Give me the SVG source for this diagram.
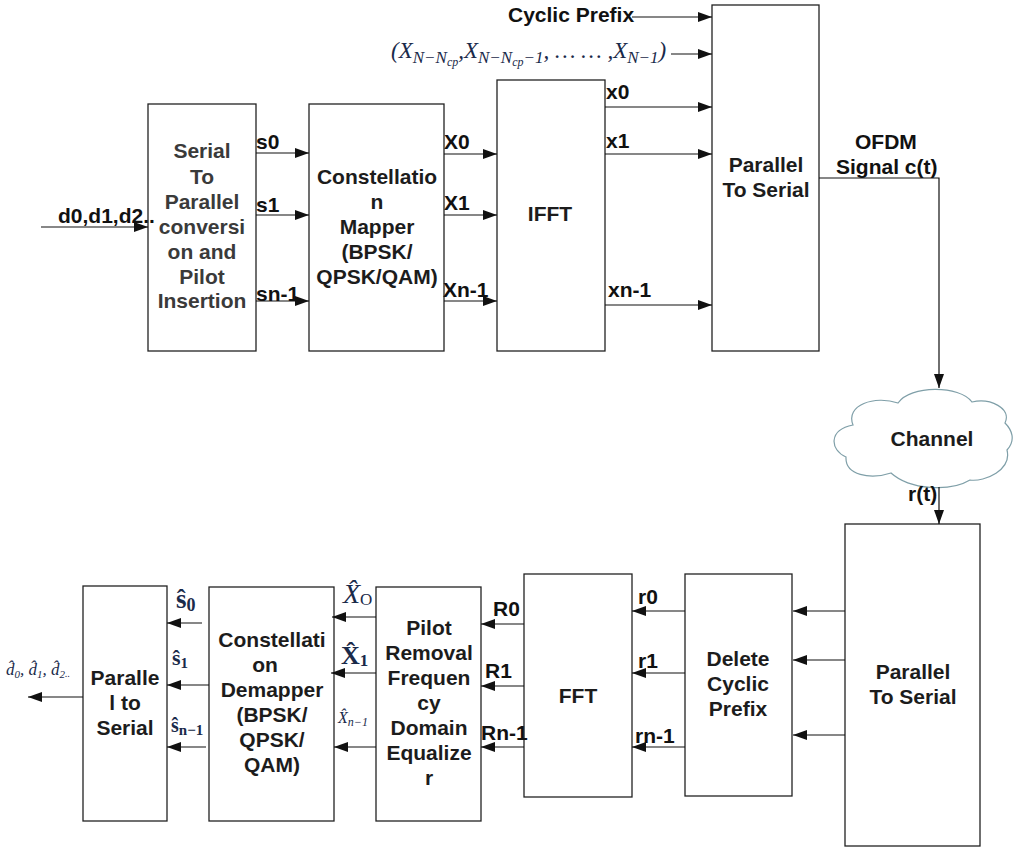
<svg xmlns="http://www.w3.org/2000/svg" width="1013" height="850" viewBox="0 0 1013 850">
<style>
.b{fill:#fff;stroke:#222;stroke-width:1.3}
.t{font:bold 21px "Liberation Sans",Arial,sans-serif;fill:#1c1c1c;text-anchor:middle}
.g{fill:#3a3a3a}
.l{font:bold 21px "Liberation Sans",Arial,sans-serif;fill:#111}
.m{font-family:"Liberation Serif","Times New Roman",serif;font-style:italic;fill:#1a2a4a}
.mb{font-family:"Liberation Serif","Times New Roman",serif;font-weight:bold;fill:#1a2a4a}
.c{fill:none;stroke:#111;stroke-width:1.2;marker-end:url(#a)}
</style>
<defs><marker id="a" markerUnits="userSpaceOnUse" markerWidth="15" markerHeight="10" refX="14" refY="5" orient="auto"><path d="M0 0L14 5L0 10Z" fill="#111"/></marker></defs>
<rect width="1013" height="850" fill="#fff"/>
<g id="serial-to-parallel"><rect class="b" x="148" y="104" width="108" height="247"/>
<text class="t g" x="202" y="158">Serial</text><text class="t g" x="202" y="184">To</text><text class="t g" x="202" y="209">Parallel</text><text class="t g" x="202" y="234">conversi</text><text class="t g" x="202" y="259">on and</text><text class="t g" x="202" y="284">Pilot</text><text class="t g" x="202" y="308">Insertion</text></g>
<g id="mapper"><rect class="b" x="309" y="104" width="135" height="247"/>
<text class="t" x="377" y="184">Constellatio</text><text class="t" x="377" y="209">n</text><text class="t" x="377" y="234">Mapper</text><text class="t" x="377" y="259">(BPSK/</text><text class="t" x="377" y="284">QPSK/QAM)</text></g>
<g id="ifft"><rect class="b" x="497" y="80" width="108" height="271"/><text class="t" x="550" y="221">IFFT</text></g>
<g id="parallel-to-serial-tx"><rect class="b" x="712" y="5" width="107" height="346"/>
<text class="t" x="766" y="172">Parallel</text><text class="t" x="766" y="197">To Serial</text></g>
<g id="channel"><path d="M853 425C845 405 875 395 898 403C910 385 960 385 972 402C990 398 1012 408 1005 423C1012 430 1016 440 1007 450C1012 470 985 482 970 480C950 492 910 490 891 473C870 480 845 475 846 457C830 450 828 430 853 425Z" fill="#fff" stroke="#7f9fa8" stroke-width="1.2"/>
<text class="t" x="932" y="446">Channel</text></g>
<g id="parallel-to-serial-rx"><rect class="b" x="845" y="524" width="135" height="322"/>
<text class="t" x="913" y="679">Parallel</text><text class="t" x="913" y="704">To Serial</text></g>
<g id="delete-cp"><rect class="b" x="685" y="574" width="107" height="222"/>
<text class="t" x="738" y="666">Delete</text><text class="t" x="738" y="691">Cyclic</text><text class="t" x="738" y="716">Prefix</text></g>
<g id="fft"><rect class="b" x="524" y="574" width="108" height="223"/><text class="t" x="578" y="703">FFT</text></g>
<g id="equalizer"><rect class="b" x="376" y="587" width="105" height="234"/>
<text class="t" x="429" y="635">Pilot</text><text class="t" x="429" y="660">Removal</text><text class="t" x="429" y="685">Frequen</text><text class="t" x="429" y="710">cy</text><text class="t" x="429" y="735">Domain</text><text class="t" x="429" y="760">Equalize</text><text class="t" x="429" y="785">r</text></g>
<g id="demapper"><rect class="b" x="209" y="587" width="125" height="234"/>
<text class="t" x="272" y="647">Constellati</text><text class="t" x="265" y="672">on</text><text class="t" x="272" y="697">Demapper</text><text class="t" x="272" y="722">(BPSK/</text><text class="t" x="272" y="747">QPSK/</text><text class="t" x="272" y="772">QAM)</text></g>
<g id="parallel-to-serial-out"><rect class="b" x="83" y="586" width="84" height="235"/>
<text class="t" x="125" y="685">Paralle</text><text class="t" x="125" y="710">l to</text><text class="t" x="125" y="735">Serial</text></g>
<g id="connectors">
<path class="c" d="M41 227H148"/>
<path class="c" d="M256 153H309"/><path class="c" d="M256 215H309"/><path class="c" d="M256 301H309"/>
<path class="c" d="M444 154H497"/><path class="c" d="M444 215H497"/><path class="c" d="M444 301H497"/>
<path class="c" d="M632 17H712"/><path class="c" d="M671 54H712"/>
<path class="c" d="M605 107H712"/><path class="c" d="M605 154H712"/><path class="c" d="M605 305H712"/>
<path class="c" d="M819 178H939V388"/>
<path class="c" d="M939 487V524"/>
<path class="c" d="M845 611H793"/><path class="c" d="M845 660H793"/><path class="c" d="M845 735H793"/>
<path class="c" d="M685 611H632"/><path class="c" d="M685 673H632"/><path class="c" d="M685 747H632"/>
<path class="c" d="M524 624H481"/><path class="c" d="M524 686H481"/><path class="c" d="M524 747H481"/>
<path class="c" d="M376 617H332"/><path class="c" d="M376 673H331"/><path class="c" d="M376 747H334"/>
<path class="c" d="M202 623H167"/><path class="c" d="M209 685H167"/><path class="c" d="M206 747H167"/>
<path class="c" d="M83 697H28"/>
</g>
<g id="labels">
<text class="l" x="58" y="223">d0,d1,d2..</text>
<text class="l" x="256" y="149">s0</text><text class="l" x="256" y="212">s1</text><text class="l" x="256" y="301">sn-1</text>
<text class="l" x="444" y="149">X0</text><text class="l" x="444" y="210">X1</text><text class="l" x="443" y="297">Xn-1</text>
<text class="l" x="606" y="99">x0</text><text class="l" x="606" y="148">x1</text><text class="l" x="608" y="297">xn-1</text>
<text class="l" x="508" y="22">Cyclic Prefix</text>
<text class="l" x="855" y="149">OFDM</text><text class="l" x="836" y="174">Signal c(t)</text>
<text class="l" x="908" y="501">r(t)</text>
<text class="l" x="638" y="604">r0</text><text class="l" x="638" y="668">r1</text><text class="l" x="635" y="743">rn-1</text>
<text class="l" x="493" y="616">R0</text><text class="l" x="485" y="678">R1</text><text class="l" x="481" y="740">Rn-1</text>
<text class="m" x="391" y="58" font-size="23">(X<tspan font-size="17" dy="5">N−N</tspan><tspan font-size="12" dy="3">cp</tspan><tspan dy="-8">,X</tspan><tspan font-size="17" dy="5">N−N</tspan><tspan font-size="12" dy="3">cp</tspan><tspan font-size="17" dy="-3">−1</tspan><tspan dy="-5">, … … ,X</tspan><tspan font-size="17" dy="5">N−1</tspan><tspan dy="-5">)</tspan></text>
<text class="mb" x="176" y="608" font-size="27">ŝ<tspan font-size="18" dy="3">0</tspan></text>
<text class="mb" x="172" y="665" font-size="22">ŝ<tspan font-size="15" dy="3">1</tspan></text>
<text class="mb" x="171" y="732" font-size="20">ŝ<tspan font-size="15" dy="3">n−1</tspan></text>
<text class="m" x="343" y="603" font-size="28">X̂<tspan font-size="17" dy="2" font-style="normal">O</tspan></text>
<text class="mb" x="341" y="664" font-size="26">X̂<tspan font-size="17" dy="2">1</tspan></text>
<text class="m" x="338" y="723" font-size="16">X̂<tspan font-size="12" dy="3">n−1</tspan></text>
<text class="m" x="6" y="675" font-size="17">d̂<tspan font-size="11" dy="3">0</tspan><tspan dy="-3">, d̂</tspan><tspan font-size="11" dy="3">1</tspan><tspan dy="-3">, d̂</tspan><tspan font-size="11" dy="3">2</tspan><tspan font-size="10" dy="-1">..</tspan></text>
</g>
</svg>
